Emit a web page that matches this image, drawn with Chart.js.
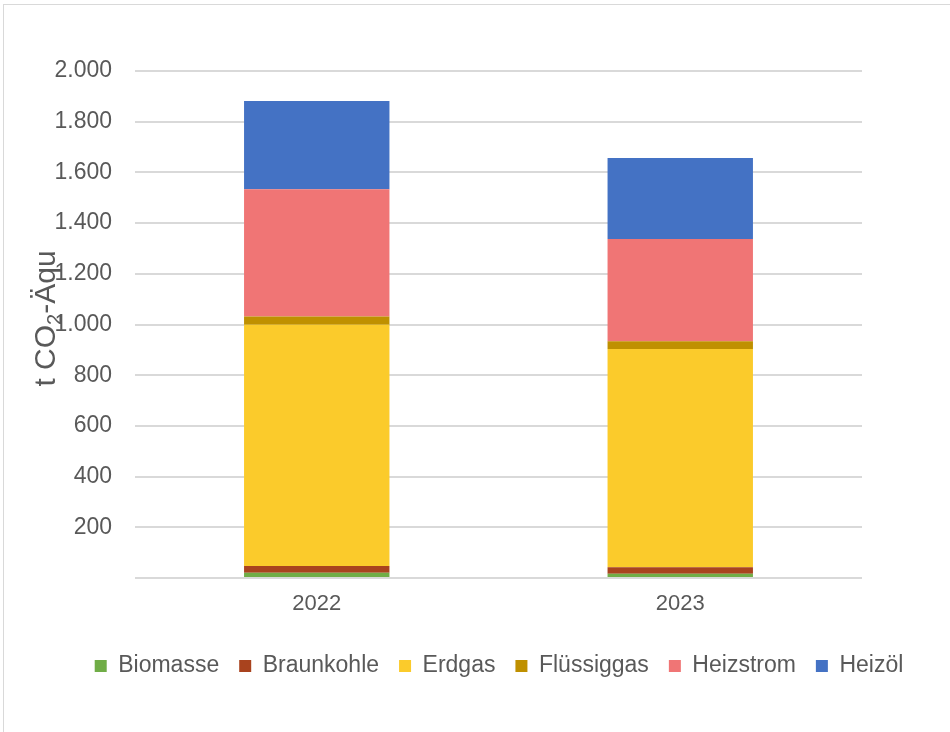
<!DOCTYPE html>
<html>
<head>
<meta charset="utf-8">
<script src="https://cdn.jsdelivr.net/npm/chart.js@4/dist/chart.umd.min.js"></script>
<style>
    html, body { margin: 0; padding: 0; background: #fff; overflow: hidden; }
    #frame {
        position: absolute; left: 3px; top: 4px;
        width: 1000px; height: 800px;
        border: 1px solid #d9d9d9;
    }
    #wrap { position: absolute; left: 0; top: 0; width: 950px; height: 732px; }
</style>
</head>
<body>
<div id="frame"></div>
<div id="wrap"><canvas id="chart" width="950" height="732"></canvas></div>
<script>
const years = ['2022', '2023'];

const biomasse    = [21, 17];
const braunkohle  = [26, 25];
const erdgas      = [952, 861];
const fluessiggas = [33, 31];
const heizstrom   = [502, 403];
const heizoel     = [348, 320];

const seriesNames  = ['Biomasse', 'Braunkohle', 'Erdgas', 'Flüssiggas', 'Heizstrom', 'Heizöl'];
const seriesValues = [biomasse, braunkohle, erdgas, fluessiggas, heizstrom, heizoel];
const seriesColors = ['#70ad47', '#a9431e', '#fbcb2b', '#bf9000', '#f07575', '#4472c4'];

const yMax = 2000;
const yStep = 200;

const textColor = '#595959';
const gridColor = '#d9d9d9';
const fontFamily = '"Liberation Sans", Arial, sans-serif';

// 1.800 style labels, no label at zero
const formatTick = (v) => {
    if (v === 0) return '';
    return String(v).replace(/\B(?=(\d{3})+(?!\d))/g, '.');
};

// rotated y axis title with subscript 2
const axisTitle = {
    id: 'axisTitle',
    afterDraw(chart) {
        const ctx = chart.ctx;
        const area = chart.chartArea;
        const big = '30px ' + fontFamily;
        const small = '20px ' + fontFamily;
        const parts = [['t CO', big, 0], ['2', small, 6], ['-Äqu', big, 0]];

        ctx.save();
        let total = 0;
        parts.forEach(p => { ctx.font = p[1]; total += ctx.measureText(p[0]).width; });
        ctx.translate(55, (area.top + area.bottom) / 2 - 6);
        ctx.rotate(-Math.PI / 2);
        ctx.fillStyle = textColor;
        ctx.textBaseline = 'alphabetic';
        let x = -total / 2;
        parts.forEach(p => {
            ctx.font = p[1];
            ctx.fillText(p[0], x, p[2]);
            x += ctx.measureText(p[0]).width;
        });
        ctx.restore();
    }
};

// legend sits centred under the plot area, not the whole canvas
const legendShift = {
    id: 'legendShift',
    afterLayout(chart) {
        const lg = chart.legend;
        const dx = 63;
        lg.left += dx;
        lg.right += dx;
    }
};

const chart = new Chart(document.getElementById('chart'), {
    type: 'bar',
    data: {
        labels: years,
        datasets: seriesNames.map((name, i) => ({
            label: name,
            data: seriesValues[i],
            backgroundColor: seriesColors[i],
            borderWidth: 0,
            categoryPercentage: 1,
            barPercentage: 0.4
        }))
    },
    options: {
        responsive: false,
        animation: false,
        devicePixelRatio: 1,
        layout: {
            padding: { left: 10, right: 88, top: 71, bottom: 44.5 }
        },
        plugins: {
            legend: {
                position: 'bottom',
                labels: {
                    boxWidth: 12,
                    boxHeight: 12,
                    padding: 20,
                    color: textColor,
                    font: { family: fontFamily, size: 23 }
                }
            },
            tooltip: { enabled: false },
            title: { display: false }
        },
        scales: {
            x: {
                stacked: true,
                grid: { display: false, drawTicks: false },
                border: { display: false },
                ticks: {
                    color: textColor,
                    padding: 13,
                    font: { family: fontFamily, size: 22 }
                },
                afterFit: (scale) => { scale.height = 56.5; }
            },
            y: {
                stacked: true,
                min: 0,
                max: yMax,
                border: { display: false },
                grid: { color: gridColor, lineWidth: 2, drawTicks: false },
                ticks: {
                    stepSize: yStep,
                    color: textColor,
                    padding: 23,
                    font: { family: fontFamily, size: 23 },
                    callback: formatTick
                },
                afterFit: (scale) => { scale.width = 125; }
            }
        }
    },
    plugins: [axisTitle, legendShift]
});
</script>
</body>
</html>
